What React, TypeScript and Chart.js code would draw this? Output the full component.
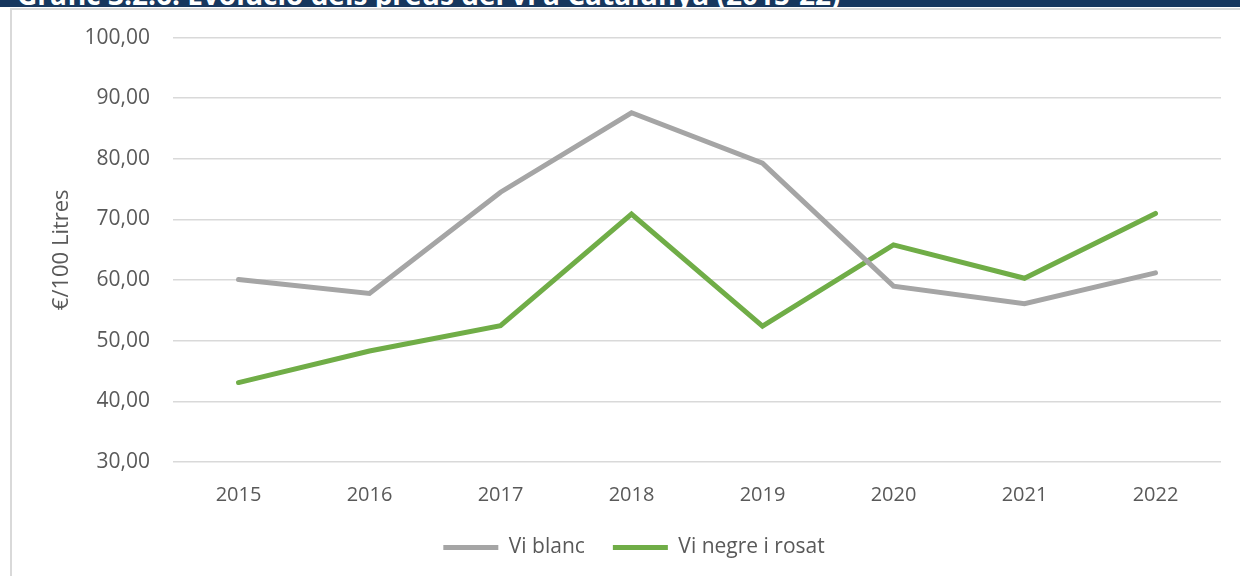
import React, { useEffect, useRef } from "react";
import { Chart, registerables } from "chart.js";

Chart.register(...registerables);

const TITLE = "Gràfic 3.2.6. Evolució dels preus del vi a Catalunya (2015-22)";
const years = ["2015", "2016", "2017", "2018", "2019", "2020", "2021", "2022"];
const viBlanc = [60.1, 57.8, 74.5, 87.6, 79.3, 59.0, 56.1, 61.2];
const viNegre = [43.1, 48.3, 52.5, 70.9, 52.4, 65.8, 60.3, 71.0];
const seriesNames = ["Vi blanc", "Vi negre i rosat"];
const yTitle = "€/100 Litres";

const FONT = "'Open Sans', 'Noto Sans', sans-serif";

export default function App() {
  const ref = useRef<HTMLCanvasElement | null>(null);

  useEffect(() => {
    if (!ref.current) return;
    const chart = new Chart(ref.current, {
      type: "line",
      data: {
        labels: years,
        datasets: [
          {
            label: seriesNames[0],
            data: viBlanc,
            borderColor: "#A5A5A5",
            backgroundColor: "#A5A5A5",
            borderWidth: 5,
            borderCapStyle: "round",
            pointRadius: 0,
            pointHoverRadius: 0,
            tension: 0,
          },
          {
            label: seriesNames[1],
            data: viNegre,
            borderColor: "#70AD47",
            backgroundColor: "#70AD47",
            borderWidth: 5,
            borderCapStyle: "round",
            pointRadius: 0,
            pointHoverRadius: 0,
            tension: 0,
          },
        ],
      },
      options: {
        animation: false,
        responsive: false,
        maintainAspectRatio: false,
        layout: { padding: { top: 12, right: 19, left: 35, bottom: 8 } },
        plugins: {
          tooltip: { enabled: false },
          legend: {
            position: "bottom",
            labels: {
              usePointStyle: true,
              pointStyle: "line",
              pointStyleWidth: 55,
              boxHeight: 5,
              padding: 28,
              color: "#595959",
              font: { family: FONT, size: 21 },
            },
          },
        },
        scales: {
          x: {
            offset: true,
            grid: { display: false },
            border: { display: false },
            afterFit: (s: any) => {
              s.height = 47;
            },
            ticks: {
              color: "#595959",
              padding: 13,
              font: { family: FONT, size: 20 },
              maxRotation: 0,
            },
          },
          y: {
            min: 30,
            max: 100,
            grid: { color: "#d9d9d9", lineWidth: 1.5, drawTicks: false },
            border: { display: false },
            afterFit: (s: any) => {
              s.width = 126;
            },
            ticks: {
              stepSize: 10,
              padding: 23,
              color: "#595959",
              font: { family: FONT, size: 21 },
              callback: (v: any) => Number(v).toFixed(2).replace(".", ","),
            },
            title: {
              display: true,
              text: yTitle,
              color: "#595959",
              font: { family: FONT, size: 22 },
              padding: { top: 2, bottom: 0 },
            },
          },
        },
      },
    });
    return () => chart.destroy();
  }, []);

  return (
    <div style={{ position: "absolute", left: 0, top: 0, width: 1240, height: 576, background: "#fff", overflow: "hidden" }}>
      <div
        style={{
          position: "absolute",
          left: 0,
          top: 0,
          width: 1240,
          height: 7,
          background: "#17375E",
          overflow: "hidden",
        }}
      >
        <span
          style={{
            position: "absolute",
            left: 17,
            top: -25,
            whiteSpace: "nowrap",
            color: "#fff",
            fontFamily: FONT,
            fontWeight: 700,
            fontSize: 28,
            lineHeight: "38px",
          }}
        >
          {TITLE}
        </span>
      </div>
      <div
        style={{
          position: "absolute",
          left: 10,
          top: 8,
          width: 1240,
          height: 600,
          borderLeft: "2px solid #d9d9d9",
          borderTop: "2px solid #d9d9d9",
          boxSizing: "border-box",
        }}
      />
      <canvas
        ref={ref}
        width={1228}
        height={574}
        style={{ position: "absolute", left: 12, top: 2, width: 1228, height: 574 }}
      />
    </div>
  );
}
